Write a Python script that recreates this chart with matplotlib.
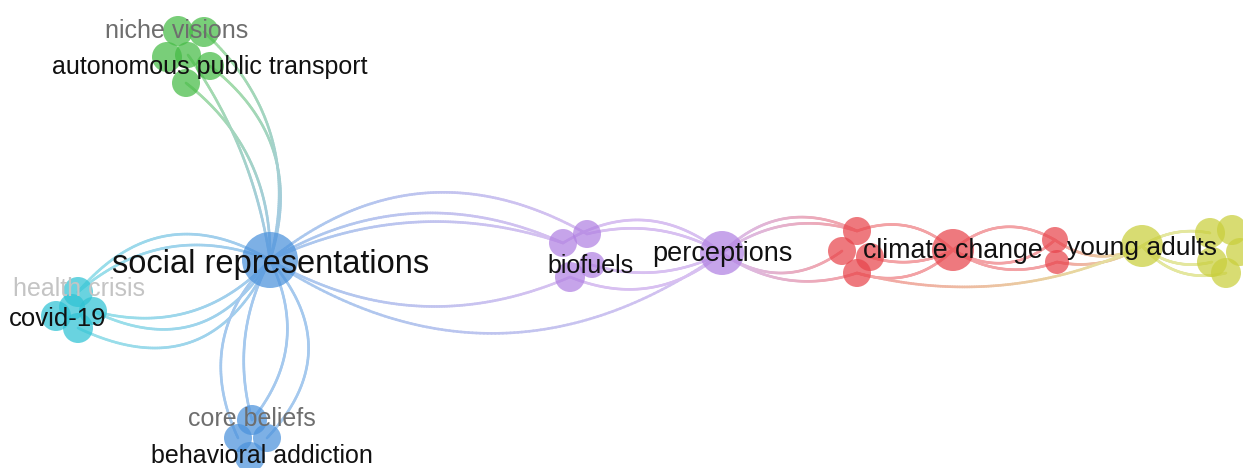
import numpy as np
import matplotlib
matplotlib.use("Agg")
import matplotlib.pyplot as plt
from matplotlib.patches import Circle
from matplotlib.collections import LineCollection
from matplotlib.colors import to_rgb

# ---- cluster colours ----
cluster_colors = {
    "blue": "#4b92dc",
    "green": "#45bb45",
    "cyan": "#2fc3d4",
    "purple": "#b181e2",
    "red": "#e8454c",
    "yellow": "#c9cf3c",
}

# ---- nodes (map coordinates, y downward) ----
node_x = [270, 178, 204, 167, 210, 186, 188, 78, 56, 93, 78, 72,
          252, 238, 267, 250, 563, 587, 592, 570, 722,
          857, 842, 870, 857, 953, 1055, 1057,
          1142, 1210, 1232, 1212, 1226, 1240]
node_y = [260, 31, 32, 57, 66, 83, 55, 292, 316, 311, 328, 307,
          420, 438, 438, 457, 243, 234, 265, 277, 253,
          231, 251, 257, 273, 250, 240, 262,
          246, 233, 230, 262, 273, 252]
node_r = [28, 15, 15, 15, 14, 14, 13, 15, 15, 14, 15, 13,
          15, 14, 14, 15, 14, 14, 13, 15, 22,
          14, 14, 14, 14, 21, 13, 12,
          21, 15, 15, 15, 15, 14]
node_cluster = ["blue", "green", "green", "green", "green", "green", "green",
                "cyan", "cyan", "cyan", "cyan", "cyan",
                "blue", "blue", "blue", "blue",
                "purple", "purple", "purple", "purple", "purple",
                "red", "red", "red", "red", "red", "red", "red",
                "yellow", "yellow", "yellow", "yellow", "yellow", "yellow"]

# ---- links: source, target, curvature ----
edge_src = [0, 0, 0, 0,
            0, 0, 0, 0, 0,
            0, 0, 0, 0,
            0, 0, 0, 0, 0,
            17, 16, 18, 19,
            20, 20, 20, 20,
            21, 23, 24,
            25, 25, 25, 26, 27, 24,
            28, 28, 28]
edge_dst = [5, 4, 2, 6,
            7, 7, 9, 10, 9,
            13, 12, 12, 14,
            17, 16, 16, 19, 20,
            20, 20, 20, 20,
            21, 21, 24, 22,
            25, 25, 25,
            26, 26, 27, 28, 28, 28,
            29, 31, 32]
edge_bend = [0.25, 0.35, 0.3, 0.12,
             0.42, 0.3, -0.45, -0.5, -0.3,
             0.35, 0.2, -0.32, -0.45,
             -0.34, -0.26, -0.2, 0.25, 0.34,
             -0.2, -0.35, 0.2, 0.3,
             -0.35, -0.25, 0.25, 0.35,
             -0.3, 0.2, 0.3,
             -0.35, 0.35, 0.25, 0.3, 0.2, 0.18,
             -0.2, 0.25, 0.3]

# ---- labels ----
label_text = ["niche visions", "autonomous public transport", "social representations",
              "health crisis", "covid-19", "core beliefs", "behavioral addiction",
              "biofuels", "perceptions", "climate change", "young adults"]
label_x = [177, 210, 271, 79, 58, 252, 262, 591, 722, 953, 1142]
label_y = [31, 67, 264, 289, 319, 419, 456, 266, 254, 251, 248]
label_size = [18, 18, 23.5, 18, 18.5, 18, 18, 18, 19.5, 19.3, 19]
label_color = ["#6e6e6e", "#111111", "#111111", "#c4c4c4", "#111111", "#6e6e6e",
               "#111111", "#111111", "#111111", "#111111", "#111111"]

fig = plt.figure(figsize=(12.43, 4.68), dpi=100)
ax = fig.add_axes([0, 0, 1, 1])
ax.set_xlim(0, 1243)
ax.set_ylim(468, 0)
ax.axis("off")


def pale(c, f=0.5):
    r, g, b = to_rgb(c)
    return np.array([r + (1 - r) * f, g + (1 - g) * f, b + (1 - b) * f])


t = np.linspace(0, 1, 120)
for s, d, b in zip(edge_src, edge_dst, edge_bend):
    p0 = np.array([node_x[s], node_y[s]], float)
    p2 = np.array([node_x[d], node_y[d]], float)
    v = p2 - p0
    L = np.hypot(*v)
    perp = np.array([-v[1], v[0]]) / L
    p1 = (p0 + p2) / 2 + perp * b * L
    pts = ((1 - t)[:, None] ** 2) * p0 + (2 * (1 - t) * t)[:, None] * p1 + (t[:, None] ** 2) * p2
    segs = np.stack([pts[:-1], pts[1:]], axis=1)
    c0 = pale(cluster_colors[node_cluster[s]])
    c1 = pale(cluster_colors[node_cluster[d]])
    tm = (t[:-1] + t[1:]) / 2
    cols = c0[None, :] * (1 - tm)[:, None] + c1[None, :] * tm[:, None]
    ax.add_collection(LineCollection(segs, colors=cols, linewidths=1.9, zorder=1,
                                     capstyle="round"))

for x, y, r, c in zip(node_x, node_y, node_r, node_cluster):
    ax.add_patch(Circle((x, y), r, facecolor=cluster_colors[c], edgecolor="none",
                        alpha=0.72, zorder=2))

for txt, x, y, sz, col in zip(label_text, label_x, label_y, label_size, label_color):
    ax.text(x, y, txt, fontsize=sz, color=col, ha="center", va="center",
            family=["Liberation Sans", "DejaVu Sans"], zorder=3)

fig.savefig("out.png", dpi=100)
